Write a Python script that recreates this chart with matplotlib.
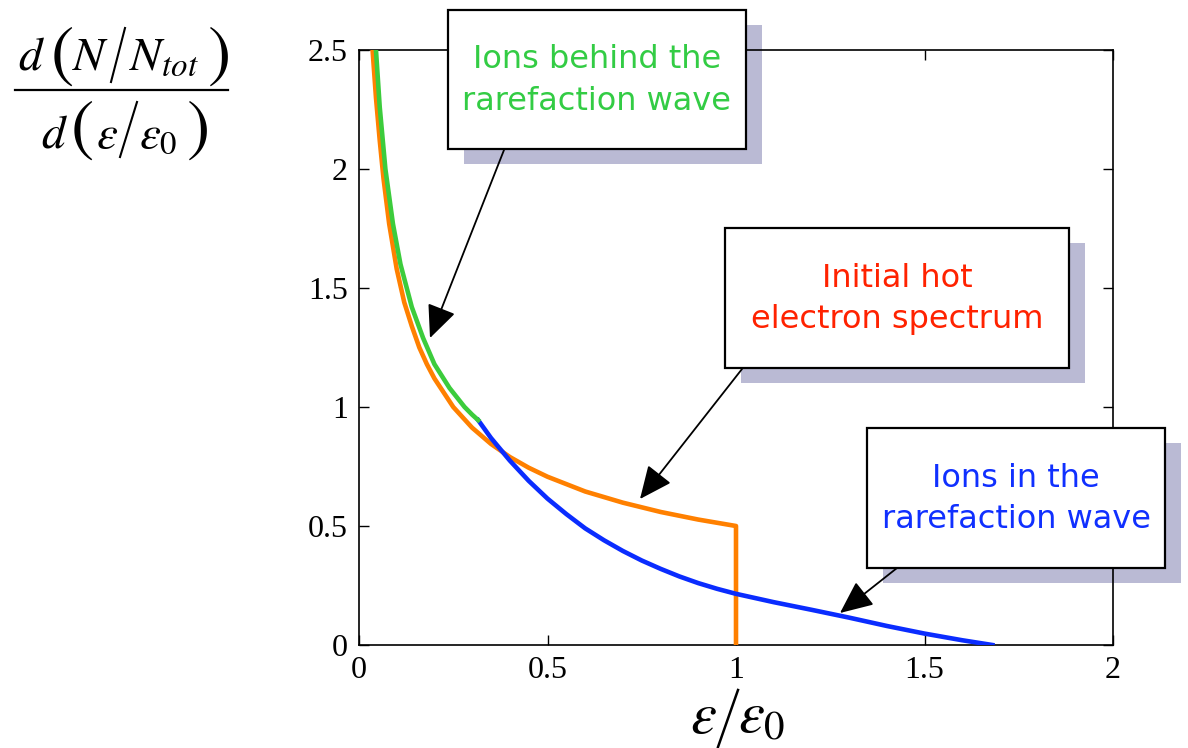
import matplotlib
matplotlib.use("Agg")
import matplotlib.pyplot as plt
from matplotlib.lines import Line2D
from matplotlib.patches import Rectangle, FancyArrowPatch

# values
hot_e_x = [0.036, 0.045, 0.055, 0.065, 0.08, 0.1, 0.12, 0.14, 0.16, 0.18, 0.2,
           0.25, 0.3, 0.35, 0.4, 0.45, 0.5, 0.6, 0.7, 0.8, 0.9, 1.0, 1.0]
hot_e_y = [2.5, 2.3, 2.12, 1.96, 1.77, 1.58, 1.44, 1.34, 1.25, 1.18, 1.12,
           1.0, 0.913, 0.845, 0.79, 0.745, 0.707, 0.645, 0.598, 0.559, 0.527, 0.5, 0.0]

behind_x = [0.045, 0.055, 0.07, 0.09, 0.11, 0.14, 0.17, 0.2, 0.22, 0.24, 0.26,
            0.28, 0.3, 0.316]
behind_y = [2.5, 2.26, 2.0, 1.77, 1.6, 1.42, 1.29, 1.18, 1.13, 1.08, 1.04,
            1.0, 0.968, 0.945]

inwave_x = [0.316, 0.35, 0.4, 0.45, 0.5, 0.55, 0.6, 0.65, 0.7, 0.75, 0.8, 0.85,
            0.9, 0.95, 1.0, 1.1, 1.2, 1.3, 1.4, 1.5, 1.6, 1.68]
inwave_y = [0.945, 0.87, 0.775, 0.69, 0.615, 0.55, 0.49, 0.44, 0.395, 0.355, 0.32, 0.288,
            0.26, 0.236, 0.215, 0.18, 0.148, 0.115, 0.08, 0.048, 0.02, 0.0]

x_ticks = [0, 0.5, 1, 1.5, 2]
x_tick_labels = ["0", "0.5", "1", "1.5", "2"]
y_ticks = [0, 0.5, 1, 1.5, 2, 2.5]
y_tick_labels = ["0", "0.5", "1", "1.5", "2", "2.5"]

labels = ["Ions behind the\nrarefaction wave",
          "Initial hot\nelectron spectrum",
          "Ions in the\nrarefaction wave"]

COLOR_HOT = "#ff8000"
COLOR_BEHIND = "#3ccc3c"
COLOR_WAVE = "#0a2cff"
TEXT_COLORS = ["#33cc44", "#ff2200", "#1030ff"]
SHADOW = "#babad4"

W, H = 1188, 748
plt.rcParams["mathtext.fontset"] = "stix"

fig = plt.figure(figsize=(W / 100, H / 100), dpi=100)
ax = fig.add_axes([359 / W, 1 - 645 / H, 754 / W, 595 / H])


def fx(px):
    return px / W


def fy(py):
    return 1 - py / H


ax.plot(hot_e_x, hot_e_y, color=COLOR_HOT, linewidth=3.3, zorder=3)
ax.plot(inwave_x, inwave_y, color=COLOR_WAVE, linewidth=3.3, zorder=3)
ax.plot(behind_x, behind_y, color=COLOR_BEHIND, linewidth=3.3, zorder=3)

ax.set_xlim(0, 2)
ax.set_ylim(0, 2.5)
ax.set_xticks(x_ticks)
ax.set_xticklabels(x_tick_labels)
ax.set_yticks(y_ticks)
ax.set_yticklabels(y_tick_labels)
ax.tick_params(direction="in", length=7, width=1, top=True, right=True,
               labelsize=23, pad=8)
for lab in ax.get_xticklabels() + ax.get_yticklabels():
    lab.set_fontfamily("Liberation Serif")
for sp in ax.spines.values():
    sp.set_linewidth(1.2)

# axis labels, built from pieces so the delimiters can be tall like the original
# (text, x px, y px, size, vertical alignment)
pieces = [
    (r"$d$", 31, 70, 34, "baseline"),
    (r"$($", 62, 54, 50, "center"),
    (r"$N$", 91, 70, 34, "baseline"),
    (r"$N_{tot}$", 164, 70, 34, "baseline"),
    (r"$)$", 218, 54, 50, "center"),
    (r"$d$", 54, 148, 34, "baseline"),
    (r"$($", 82, 128, 50, "center"),
    (r"$\varepsilon$", 107, 148, 34, "baseline"),
    (r"$\varepsilon_0$", 158, 148, 34, "baseline"),
    (r"$)$", 197, 128, 50, "center"),
    (r"$\varepsilon$", 703, 733, 42, "baseline"),
    (r"$\varepsilon_0$", 762, 733, 42, "baseline"),
]
for txt, px, py, size, va in pieces:
    fig.text(fx(px), fy(py), txt, fontsize=size, ha="center", va=va)

# fraction bar and the tall thin slashes
strokes = [((15, 90), (228, 90), 1.6),
           ((125, 28), (111, 82), 1.5),
           ((137, 102), (120, 157), 1.5),
           ((738, 690), (718, 747), 1.8)]
for (x0, y0), (x1, y1), lw in strokes:
    fig.add_artist(Line2D([fx(x0), fx(x1)], [fy(y0), fy(y1)], color="black",
                          linewidth=lw, transform=fig.transFigure))

# callout boxes: (left, top, right, bottom) in pixels
boxes = [(448, 10, 746, 149), (725, 228, 1069, 368), (867, 428, 1165, 568)]
arrows = [((504, 150), (430, 338)), ((742, 369), (640, 499)), ((897, 568), (840, 613))]

for (l, t, r, b), col, text in zip(boxes, TEXT_COLORS, labels):
    shadow = Rectangle((fx(l + 16), fy(b + 15)), fx(r - l), (b - t) / H,
                       transform=fig.transFigure, facecolor=SHADOW,
                       edgecolor="none", clip_on=False, zorder=2)
    ax.add_artist(shadow)
    box = Rectangle((fx(l), fy(b)), fx(r - l), (b - t) / H,
                    transform=fig.transFigure, facecolor="white",
                    edgecolor="black", linewidth=1.6, clip_on=False, zorder=5)
    ax.add_artist(box)
    ax.text(fx((l + r) / 2), fy((t + b) / 2 + 1), text, transform=fig.transFigure,
            ha="center", va="center", color=col, fontsize=23,
            family="DejaVu Sans", linespacing=1.45, zorder=6)

for (x0, y0), (x1, y1) in arrows:
    arr = FancyArrowPatch((fx(x0), fy(y0)), (fx(x1), fy(y1)),
                          transform=fig.transFigure,
                          arrowstyle="-|>,head_length=0.85,head_width=0.38",
                          mutation_scale=24, color="black", linewidth=1.3,
                          shrinkA=0, shrinkB=0, clip_on=False, zorder=4)
    ax.add_artist(arr)

fig.savefig("out.png", dpi=100, facecolor="white")
